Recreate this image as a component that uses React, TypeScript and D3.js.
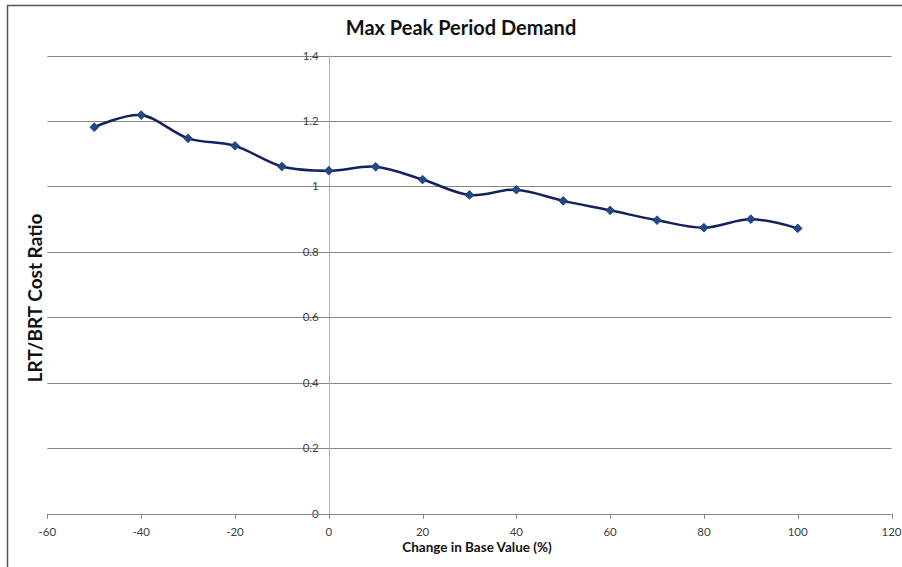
import React from "react";
import * as d3 from "d3";

// Sensitivity of the LRT/BRT cost ratio to the maximum peak period demand
const changePct: number[] = [-50, -40, -30, -20, -10, 0, 10, 20, 30, 40, 50, 60, 70, 80, 90, 100];
const costRatio: number[] = [1.181, 1.218, 1.147, 1.124, 1.061, 1.048, 1.06, 1.021, 0.974, 0.99, 0.956, 0.927, 0.897, 0.874, 0.9, 0.872];

const xTicks: number[] = [-60, -40, -20, 0, 20, 40, 60, 80, 100, 120];
const yTicks: number[] = [0, 0.2, 0.4, 0.6, 0.8, 1, 1.2, 1.4];

const chartTitle = "Max Peak Period Demand";
const xTitle = "Change in Base Value (%)";
const yTitle = "LRT/BRT Cost Ratio";

const W = 902;
const H = 567;
const FONT = "Lato, 'Open Sans', 'DejaVu Sans', sans-serif";

export default function App() {
  const x = d3.scaleLinear().domain([-60, 120]).range([47.4, 891.5]);
  const y = d3.scaleLinear().domain([0, 1.4]).range([513.8, 55.5]);

  const pts = changePct.map((c, i) => [x(c), y(costRatio[i])] as [number, number]);
  const linePath = d3.line().curve(d3.curveCardinal.tension(0))(pts) || "";
  const marker = d3.symbol().type(d3.symbolSquare).size(38)() || "";

  const fmtY = (v: number) => (v === 0 || v === 1 ? String(v) : d3.format(".1f")(v));

  return (
    <svg
      width={W}
      height={H}
      style={{ position: "absolute", left: 0, top: 0, background: "#fff" }}
      fontFamily={FONT}
    >
      <rect x={0} y={0} width={W} height={H} fill="#fff" />
      {/* chart frame */}
      <line x1={7} y1={5.5} x2={W} y2={5.5} stroke="#555" strokeWidth={1.5} />
      <line x1={7.5} y1={5} x2={7.5} y2={H} stroke="#555" strokeWidth={1.5} />

      <text x={461} y={35} textAnchor="middle" fontSize={20} fontWeight="bold" fill="#111">
        {chartTitle}
      </text>

      {/* horizontal gridlines */}
      {yTicks.filter((t) => t > 0).map((t) => (
        <line key={t} x1={x(-60)} x2={x(120)} y1={Math.round(y(t)) + 0.5} y2={Math.round(y(t)) + 0.5} stroke="#868686" strokeWidth={1} />
      ))}

      {/* vertical axis at x = 0 */}
      <line x1={Math.round(x(0)) + 0.5} x2={Math.round(x(0)) + 0.5} y1={y(1.4)} y2={y(0)} stroke="#b3b3b3" strokeWidth={1} />
      {yTicks.map((t) => (
        <text key={t} x={x(0) - 10} y={y(t) + 4} textAnchor="end" fontSize={11.5} fill="#404040">
          {fmtY(t)}
        </text>
      ))}

      {/* horizontal axis at y = 0 */}
      <line x1={x(-60)} x2={x(120)} y1={Math.round(y(0)) + 0.5} y2={Math.round(y(0)) + 0.5} stroke="#868686" strokeWidth={1} />
      {xTicks.map((t) => (
        <g key={t}>
          <line x1={Math.round(x(t)) + 0.5} x2={Math.round(x(t)) + 0.5} y1={y(0)} y2={y(0) + 5} stroke="#868686" />
          <text x={x(t)} y={y(0) + 22} textAnchor="middle" fontSize={11.5} fill="#404040">
            {t}
          </text>
        </g>
      ))}

      <text x={477} y={552} textAnchor="middle" fontSize={13.5} fontWeight="bold" fill="#111">
        {xTitle}
      </text>
      <text
        transform={`translate(42, 298) rotate(-90)`}
        textAnchor="middle"
        fontSize={19}
        fontWeight="bold"
        fill="#111"
      >
        {yTitle}
      </text>

      {/* data series */}
      <path d={linePath} fill="none" stroke="#13225e" strokeWidth={2.5} strokeLinejoin="round" />
      {pts.map(([px, py], i) => (
        <path key={i} d={marker} transform={`translate(${px},${py}) rotate(45)`} fill="#1f4a86" stroke="#1a3f78" strokeWidth={0.8} />
      ))}
    </svg>
  );
}
